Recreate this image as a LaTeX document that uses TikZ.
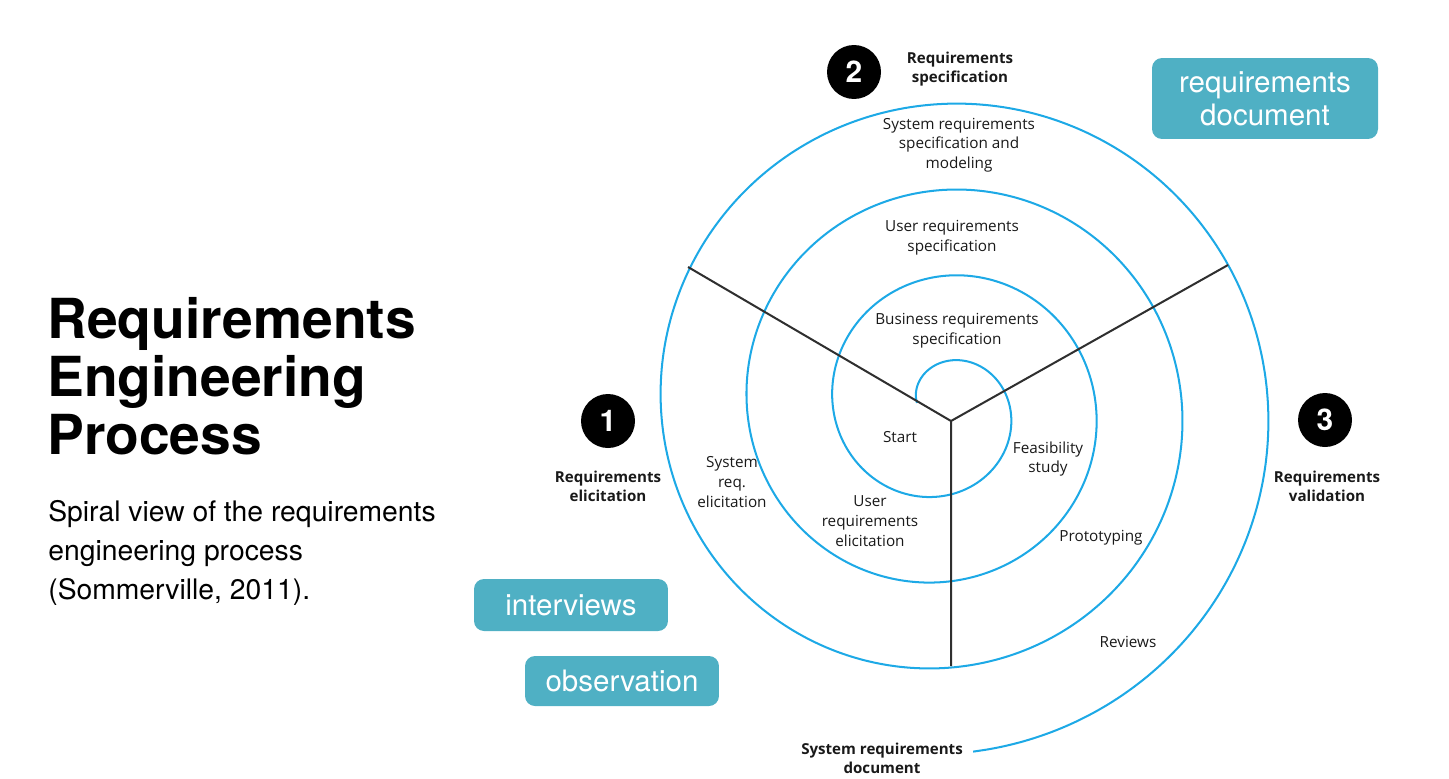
\documentclass[tikz,border=0pt]{standalone}
\usepackage{fontspec}
\setmainfont{TeX Gyre Heros}
\newfontfamily\spiralfont{Open Sans}
\definecolor{spiralblue}{HTML}{1DA9E6}
\definecolor{boxteal}{HTML}{4FB0C4}
\definecolor{divgray}{HTML}{2F2F2F}
\begin{document}
\begin{tikzpicture}[x=0.02cm,y=-0.02cm,
  phase/.style={font=\spiralfont\bfseries\fontsize{8.6}{11}\selectfont,text=black!90,align=center,inner sep=0pt},
  activity/.style={font=\spiralfont\fontsize{8.7}{11.2}\selectfont,text=black!90,align=center,inner sep=0pt},
  numdot/.style={circle,fill=black,text=white,minimum size=1.08cm,inner sep=0pt,font=\bfseries\fontsize{17}{17}\selectfont},
  tag/.style={rounded corners=0.2cm,fill=boxteal,text=white,inner sep=0pt,font=\fontsize{16.8}{18.7}\selectfont,align=center}]
\useasboundingbox (0,0) rectangle (1449,778);
\pgfmathsetmacro{\cx}{943}
\pgfmathsetmacro{\cy}{407.5}
\pgfmathsetmacro{\ra}{67}
\pgfmathsetmacro{\rb}{0.239}
\draw[spiralblue,line width=1.15pt] plot[domain=-170:1165,samples=500,smooth,variable=\t]
  ({\cx+(\ra+\rb*\t)*cos(\t)},{\cy+(\ra+\rb*\t)*sin(\t)});
\coordinate (hub) at (951,421);
\coordinate (elic) at (688,267);
\coordinate (valid) at (1228,265);
\coordinate (docu) at (951,666);
\draw[divgray,line width=1.15pt] (elic)--(hub)--(valid) (hub)--(docu);
\node (title) [anchor=north west,inner sep=0pt,align=left,font=\bfseries\fontsize{31.4}{33}\selectfont] at (47,297) {Requirements\\Engineering\\Process};
\node (sub) [anchor=north west,inner sep=0pt,align=left,font=\fontsize{16.1}{22.1}\selectfont] at (48,500) {Spiral view of the requirements\\engineering process\\(Sommerville, 2011).};
\node[numdot] (n1) at (608,421) {1};
\node[numdot] (n2) at (854,72) {2};
\node[numdot] (n3) at (1325,420) {3};
\node[phase] (pelic) at (608,486.5) {Requirements\\elicitation};
\node[phase] (pspec) at (960,69) {Requirements\\specification};
\node[phase] (pvalid) at (1327,486) {Requirements\\validation};
\node[phase] (pdoc) at (882,758) {System requirements\\document};
\node[activity] (sysspec) at (959,145) {System requirements\\specification and\\modeling};
\node[activity] (userspec) at (952,238) {User requirements\\specification};
\node[activity] (busspec) at (957,331) {Business requirements\\specification};
\node[activity] (start) at (900,437) {Start};
\node[activity] (feas) at (1048,459) {Feasibility\\study};
\node[activity] (syselic) at (732,482) {System\\req.\\elicitation};
\node[activity] (userelic) at (870,521) {User\\requirements\\elicitation};
\node[activity] (proto) at (1101,538) {Prototyping};
\node[activity] (rev) at (1128,642) {Reviews};
\node[tag,minimum width=4.52cm,minimum height=1.62cm] (reqdoc) at (1265,98.5) {requirements\\document};
\node[tag,minimum width=3.88cm,minimum height=1.04cm] (interv) at (571,605) {interviews};
\node[tag,minimum width=3.88cm,minimum height=1cm] (observ) at (622,681) {observation};
\end{tikzpicture}
\end{document}
